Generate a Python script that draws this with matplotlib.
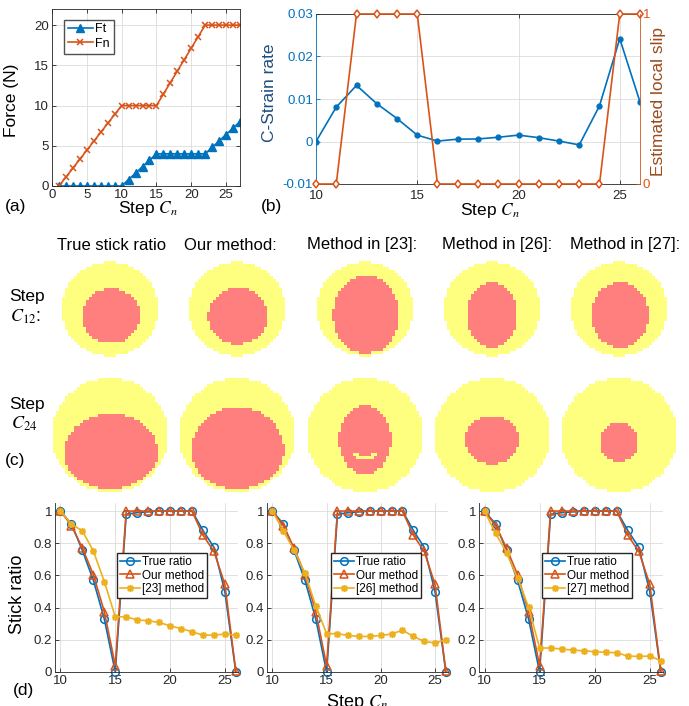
import numpy as np
import matplotlib
matplotlib.use('Agg')
import matplotlib.pyplot as plt
from matplotlib.ticker import FuncFormatter

plt.rcParams['font.family'] = ['Liberation Sans', 'DejaVu Sans']
plt.rcParams['mathtext.fontset'] = 'stix'

W, H = 689, 706

BLUE = '#0072BD'
ORANGE = '#D95319'
GOLD = '#EDB120'
GRID = '#dcdcdc'
DARK = '#262626'
ASTERISK = (8, 2, 0)

# (a) applied forces over the loading steps
force_steps = np.arange(1, 28)
ft_force = [0, 0, 0, 0, 0, 0, 0, 0, 0, 0,
            0.8, 1.6, 2.4, 3.2, 4.0,
            4, 4, 4, 4, 4, 4, 4,
            4.8, 5.6, 6.4, 7.2, 8.0]
fn_force = [0, 1.11, 2.22, 3.33, 4.44, 5.56, 6.67, 7.78, 8.89, 10,
            10, 10, 10, 10, 10,
            11.43, 12.86, 14.29, 15.71, 17.14, 18.57, 20,
            20, 20, 20, 20, 20]

# (b) strain rate and estimated slip
strain_steps = np.arange(10, 27)
strain_rate = [0, 0.0081, 0.0132, 0.0089, 0.0054, 0.0015, 0.0001, 0.00055,
               0.0006, 0.001, 0.0015, 0.0009, 0.0001, -0.0008, 0.0084,
               0.0242, 0.0093]
local_slip = [0, 0, 1, 1, 1, 1, 0, 0, 0, 0, 0, 0, 0, 0, 0, 1, 1]

# (c) contact (outer) and stick (inner) regions, pixel offsets from tile centre
method_titles = ['True stick ratio', 'Our method:', 'Method in [23]:',
                 'Method in [26]:', 'Method in [27]:']
outer_c12 = (48.5, 47)
outer_c24 = (58, 57)
stick_c12 = [(1, 7, 29, 27.5), (1, 7, 30, 28), (1, 6, 33, 39.5),
             (0, 6, 25, 33), (1, 6, 28.5, 33)]
stick_c24 = [(1, 18, 47, 39), (1, 15, 46, 43), (0, 5, 26, 34.5),
             (0, 5, 26.5, 24.5), (0, 7, 19.5, 19.5)]

# (d) stick ratio per step
ratio_steps = np.arange(10, 27)
true_ratio = [1, 0.92, 0.755, 0.57, 0.33, 0, 0.98, 0.99, 0.995, 1, 1, 1, 1,
              0.88, 0.775, 0.5, 0]
our_ratio = [1, 0.91, 0.77, 0.605, 0.375, 0.04, 1, 1, 1, 1, 1, 1, 1,
             0.85, 0.75, 0.545, 0.005]
ref23_ratio = [1, 0.92, 0.876, 0.752, 0.562, 0.343, 0.343, 0.324, 0.318,
               0.308, 0.287, 0.27, 0.25, 0.229, 0.229, 0.236, 0.229]
ref26_ratio = [1, 0.878, 0.756, 0.614, 0.411, 0.238, 0.238, 0.227, 0.221,
               0.221, 0.227, 0.236, 0.26, 0.221, 0.19, 0.18, 0.2]
ref27_ratio = [1, 0.862, 0.742, 0.583, 0.403, 0.149, 0.149, 0.143, 0.136,
               0.132, 0.126, 0.122, 0.12, 0.099, 0.097, 0.099, 0.07]
ref_names = ['[23] method', '[26] method', '[27] method']

fig = plt.figure(figsize=(W / 100, H / 100), dpi=100)


def place(l, t, r, b):
    return fig.add_axes([l / W, 1 - b / H, (r - l) / W, (b - t) / H])


def ftext(x, y, s, **kw):
    fig.text(x / W, 1 - y / H, s, **kw)


def matlab_style(ax, box=True):
    for side, sp in ax.spines.items():
        sp.set_color(DARK)
        sp.set_linewidth(0.6)
        if not box and side in ('top', 'right'):
            sp.set_visible(False)
    ax.tick_params(direction='in', length=3, width=0.6, labelsize=9.5,
                   colors=DARK, top=box, right=box, pad=2)
    ax.grid(True, color=GRID, linewidth=0.6)
    ax.set_axisbelow(True)
    ax.yaxis.set_major_formatter(FuncFormatter(lambda v, p: '%g' % v))


# ---- (a) forces
ax = place(52, 9, 240, 186)
matlab_style(ax)
ax.plot(force_steps, ft_force, '-^', color=BLUE, lw=1.2, ms=5.5, label='Ft')
ax.plot(force_steps, fn_force, '-x', color=ORANGE, lw=1.2, ms=5, mew=1.1,
        label='Fn')
ax.set_xlim(0, 27)
ax.set_ylim(0, 22)
ax.set_xticks([0, 5, 10, 15, 20, 25])
ax.set_yticks([0, 5, 10, 15, 20])
ax.legend(loc='upper left', bbox_to_anchor=(0.065, 0.94), borderaxespad=0,
          fontsize=9, handlelength=2, handletextpad=0.2, fancybox=False,
          edgecolor=DARK, borderpad=0.3, labelspacing=0.2)
ftext(12, 100, 'Force (N)', rotation=90, ha='center', va='center', fontsize=12.5)
ftext(148, 209, 'Step $C_n$', ha='center', va='center', fontsize=12.5)
ftext(5, 207, '(a)', ha='left', va='center', fontsize=12.5)

# ---- (b) strain rate vs slip
axl = place(316, 14, 640, 184)
matlab_style(axl)
axl.plot(strain_steps, strain_rate, '-o', color=BLUE, lw=1.2, ms=3.5)
axl.set_xlim(10, 26)
axl.set_ylim(-0.01, 0.03)
axl.set_xticks([10, 15, 20, 25])
axl.set_yticks([-0.01, 0, 0.01, 0.02, 0.03])
axl.tick_params(axis='x', pad=4)
axl.tick_params(axis='y', colors=BLUE, right=False)
axl.spines['left'].set_color(BLUE)
axl.spines['right'].set_visible(False)
axr = axl.twinx()
axr.plot(strain_steps, local_slip, '-d', color=ORANGE, lw=1.2, ms=4.5,
         mfc='white', mew=1.1, clip_on=False)
axr.set_ylim(0, 1)
axr.set_yticks([0, 1])
axr.spines['right'].set_color(ORANGE)
axr.spines['right'].set_linewidth(0.6)
for side in ('left', 'top', 'bottom'):
    axr.spines[side].set_visible(False)
axr.tick_params(direction='in', length=3, width=0.6, labelsize=9.5,
                colors=ORANGE, pad=2)
ftext(270, 93, 'C-Strain rate', rotation=90, ha='center', va='center',
      fontsize=12.5, color='#1f4f7c')
ftext(659, 101, 'Estimated local slip', rotation=90, ha='center',
      va='center', fontsize=12.5, color='#9c4a1e')
ftext(490, 211, 'Step $C_n$', ha='center', va='center', fontsize=12.5)
ftext(261, 207, '(b)', ha='left', va='center', fontsize=12.5)

# ---- (c) stick/slip regions
col_x = [110, 237, 365, 492, 619]
title_x = [112, 230, 362, 497, 625]
cells = np.arange(-64.5, 66, 3)
gx, gy = np.meshgrid(cells, cells)


def stick_tile(cx, cy, outer, stick, gap=False):
    orx, ory = outer
    dx, dy, irx, iry = stick
    contact = (gx / orx) ** 2 + (gy / ory) ** 2 <= 1
    inner = ((gx - dx) / irx) ** 2 + ((gy - dy) / iry) ** 2 <= 1
    inner &= (gx / (orx - 3)) ** 2 + (gy / (ory - 3)) ** 2 <= 1
    if gap:
        r = np.hypot(gx, gy - 8)
        inner &= ~((r > 13) & (r < 17) & (gy >= 18))
    img = np.zeros(gx.shape + (4,))
    img[contact] = (1, 1, 0.5, 1)
    img[inner] = (1, 0.5, 0.5, 1)
    tax = place(cx - 66, cy - 66, cx + 66, cy + 66)
    tax.imshow(img, extent=[-66, 66, 66, -66], interpolation='nearest')
    tax.axis('off')


for i in range(5):
    stick_tile(col_x[i], 309, outer_c12, stick_c12[i])
    stick_tile(col_x[i], 435, outer_c24, stick_c24[i], gap=(i == 2))
    ftext(title_x[i], 245, method_titles[i], ha='center', va='center',
          fontsize=12)

ftext(27, 297, 'Step', ha='center', va='center', fontsize=12.5)
ftext(25, 317, '$C_{12}$:', ha='center', va='center', fontsize=13)
ftext(27, 405, 'Step', ha='center', va='center', fontsize=12.5)
ftext(24, 424, '$C_{24}$', ha='center', va='center', fontsize=13)
ftext(5, 460, '(c)', ha='left', va='center', fontsize=12.5)

# ---- (d) stick ratio comparisons
d_lefts = [(55, 238), (267, 448), (479, 663)]
legend_x = [0.34, 0.354, 0.342]
ref_ratios = [ref23_ratio, ref26_ratio, ref27_ratio]
for k, (l, r) in enumerate(d_lefts):
    ax = place(l, 503, r, 672)
    matlab_style(ax, box=False)
    ax.plot(ratio_steps, true_ratio, '-o', color=BLUE, lw=1.2, ms=5.5,
            mfc='none', mew=1.1, label='True ratio', clip_on=False)
    ax.plot(ratio_steps, our_ratio, '-^', color=ORANGE, lw=1.2, ms=6,
            mfc='none', mew=1.1, label='Our method', clip_on=False)
    ax.plot(ratio_steps, ref_ratios[k], '-', marker=ASTERISK, color=GOLD,
            lw=1.2, ms=5, mew=1.1, label=ref_names[k], clip_on=False)
    ax.set_xlim(9.5, 26.2)
    ax.set_ylim(0, 1.05)
    ax.set_xticks([10, 15, 20, 25])
    ax.set_yticks([0, 0.2, 0.4, 0.6, 0.8, 1])
    ax.legend(loc='upper left', bbox_to_anchor=(legend_x[k], 0.705),
              borderaxespad=0, fontsize=8.5, handlelength=1.7,
              handletextpad=0.15, fancybox=False, framealpha=1,
              edgecolor=DARK, borderpad=0.25, labelspacing=0.15)

ftext(18, 594, 'Stick ratio', rotation=90, ha='center', va='center',
      fontsize=13)
ftext(357, 692, 'Step $C_n$', ha='center', va='top', fontsize=13)
ftext(13, 690, '(d)', ha='left', va='center', fontsize=12.5)

fig.savefig('out.png', dpi=100)
